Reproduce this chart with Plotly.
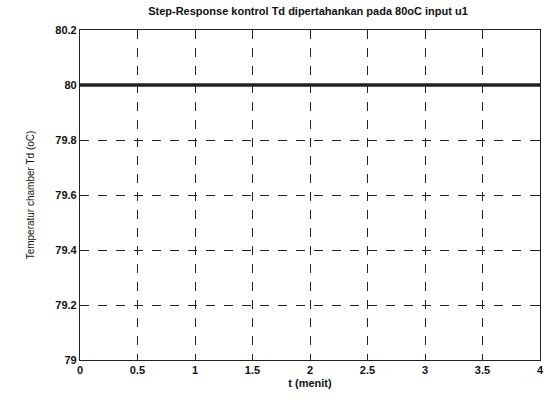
import plotly.graph_objects as go

t_menit = [0, 0.5, 1, 1.5, 2, 2.5, 3, 3.5, 4]
temperatur = [80, 80, 80, 80, 80, 80, 80, 80, 80]
x_ticks = [0, 0.5, 1, 1.5, 2, 2.5, 3, 3.5, 4]
x_labels = ["0", "0.5", "1", "1.5", "2", "2.5", "3", "3.5", "4"]
y_ticks = [79, 79.2, 79.4, 79.6, 79.8, 80, 80.2]
y_labels = ["79", "79.2", "79.4", "79.6", "79.8", "80", "80.2"]

fig = go.Figure()
fig.add_trace(go.Scatter(x=t_menit, y=temperatur, mode="lines",
                         line=dict(color="#222", width=3.5), showlegend=False))

axis_common = dict(showline=True, linecolor="#222", linewidth=1.2, mirror="ticks",
                   ticks="inside", ticklen=5, tickcolor="#222",
                   showgrid=True, gridcolor="#222", griddash="dash", gridwidth=1,
                   zeroline=False, tickfont=dict(family="Liberation Sans, Arial", size=11, color="#111", weight="bold"))

fig.update_layout(
    width=550, height=400,
    margin=dict(l=80, r=6, t=30, b=40),
    paper_bgcolor="white", plot_bgcolor="white",
    title=dict(text="Step-Response kontrol Td dipertahankan pada 80oC input u1",
               x=0.56, xanchor="center", y=0.972, yanchor="middle",
               font=dict(family="Liberation Sans, Arial", size=11, color="#111", weight="bold")),
    xaxis=dict(range=[0, 4], tickvals=x_ticks, ticktext=x_labels,
               title=dict(text="t (menit)", standoff=4,
                          font=dict(family="Liberation Sans, Arial", size=11, color="#111", weight="bold")),
               **axis_common),
    yaxis=dict(range=[79, 80.2], tickvals=y_ticks, ticktext=y_labels,
               title=dict(text="Temperatur chamber Td (oC)", standoff=18,
                          font=dict(family="Liberation Sans, Arial", size=10, color="#111")),
               **axis_common),
)

fig.write_html("out.html")
